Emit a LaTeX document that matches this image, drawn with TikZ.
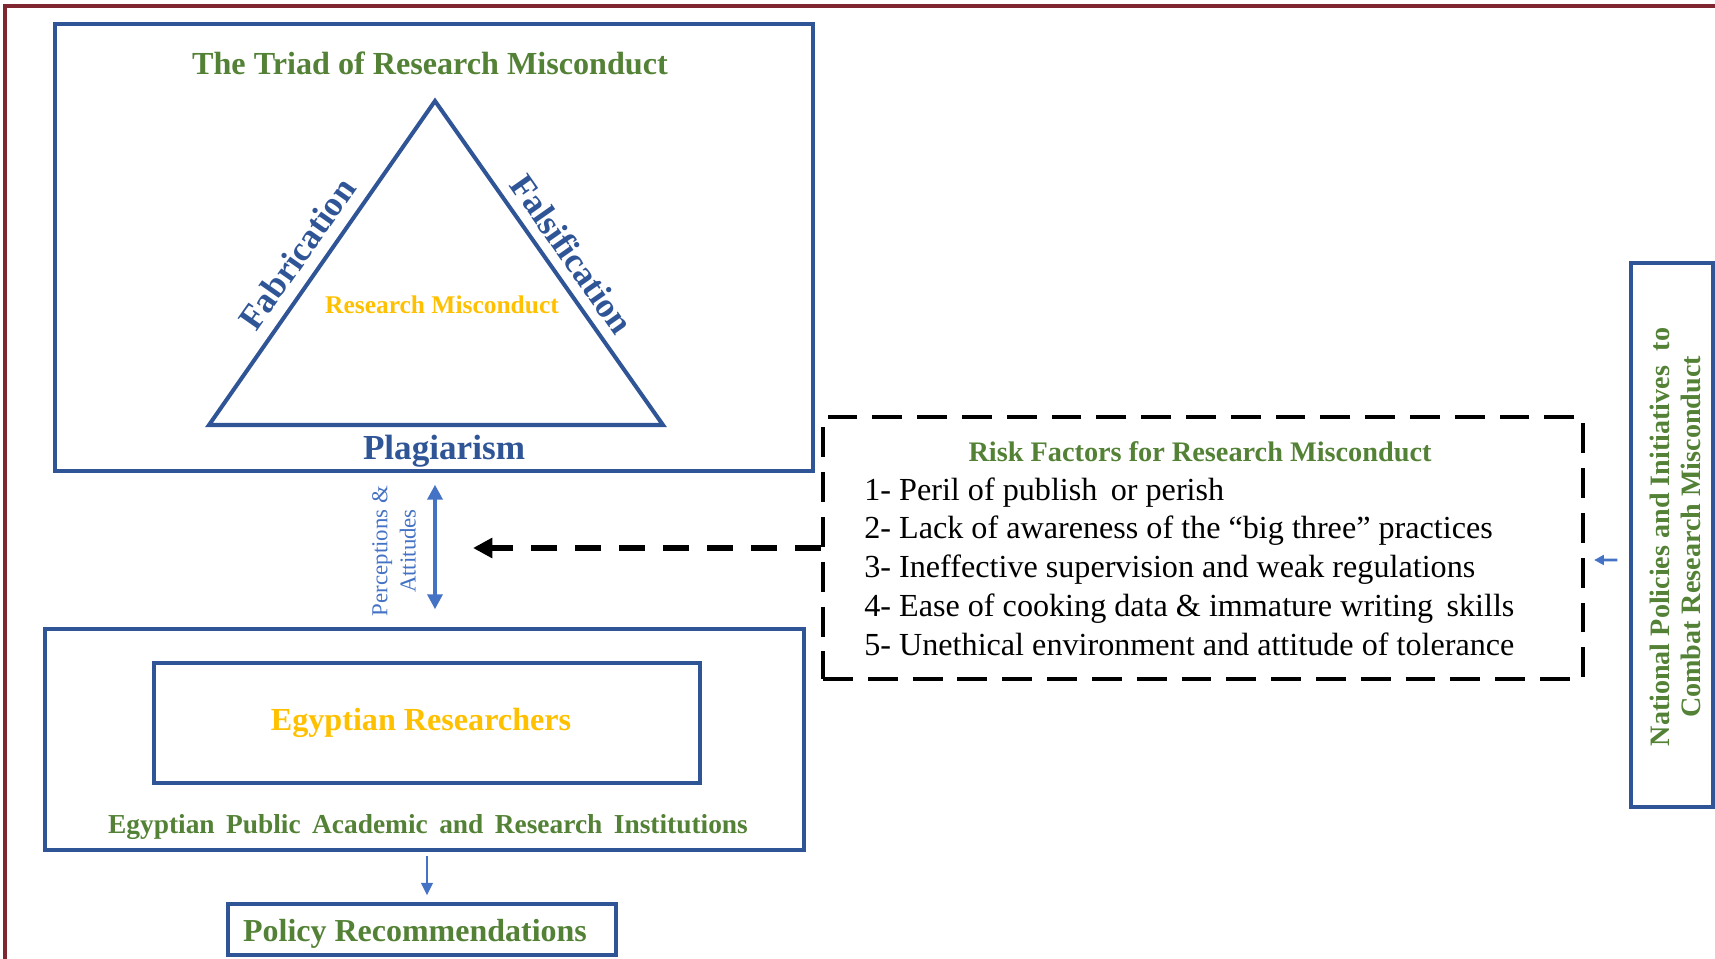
\documentclass[tikz,border=0pt]{standalone}
\usepackage{fontspec}
\setmainfont{Liberation Serif}
\usetikzlibrary{arrows.meta,calc}
\definecolor{dblue}{HTML}{2F5597}
\definecolor{lblue}{HTML}{4472C4}
\definecolor{dgreen}{HTML}{538135}
\definecolor{gold}{HTML}{FFC000}
\definecolor{frame}{HTML}{7F2630}
\newcommand{\fs}[2]{\fontsize{#1pt}{#2pt}\selectfont}
\begin{document}
\begin{tikzpicture}[x=0.02cm,y=-0.02cm,
  box/.style={draw=dblue, line width=2pt, inner sep=0pt},
  gtitle/.style={text=dgreen, font=\bfseries\fs{18.3}{21}, inner sep=0pt},
  sidelabel/.style={text=dblue, font=\bfseries\fs{20}{24}, inner sep=0pt},
  bluearrow/.style={draw=lblue, line width=2pt, {Triangle[length=8.5pt,width=8.5pt]}-{Triangle[length=8.5pt,width=8.5pt]}},
  downarrow/.style={draw=lblue, line width=1.6pt, -{Triangle[length=7pt,width=6.5pt]}},
  smallarrow/.style={draw=lblue, line width=1.5pt, -{Triangle[length=5.5pt,width=5.5pt]}},
  dasharrow/.style={draw=black, line width=3.4pt, dash pattern=on 15pt off 10pt, -{Triangle[length=11pt,width=11pt]}},
  dashbox/.style={draw=black, line width=2.5pt, dash pattern=on 17pt off 8.5pt, inner sep=0pt}
]
\useasboundingbox (0,0) rectangle (1715,959);
% outer frame (only top and left edges visible)
\draw[frame, line width=2.2pt] (5,965) -- (5,6) -- (1720,6);

% triad box
\node[box, minimum width=15.16cm, minimum height=8.94cm] (triad) at (434,247.5) {};
\node[gtitle] (title) at (430,63) {The Triad of Research Misconduct};
\coordinate (apex) at (435,101);
\coordinate (tl) at (209,425);
\coordinate (tr) at (663,425);
\draw[dblue, line width=2.3pt] (apex) -- (tr) -- (tl) -- cycle;
\node[sidelabel, rotate=55] (fab) at (297,254) {Fabrication};
\node[sidelabel, rotate=-55] (fal) at (572,254) {Falsification};
\node[text=gold, font=\bfseries\fs{14.5}{17}, inner sep=0pt] (rm) at (442,305) {Research Misconduct};
\node[sidelabel] (plag) at (444,451) {Plagiarism};

% institutions box
\node[box, minimum width=15.18cm, minimum height=4.42cm] (inst) at (424.5,739.5) {};
\node[box, minimum width=10.92cm, minimum height=2.4cm] (res) at (427,723) {};
\node[text=gold, font=\bfseries\fs{18.3}{22}, inner sep=0pt] (restext) at (421,723) {Egyptian Researchers};
\node[text=dgreen, font=\bfseries\fs{15.6}{19}, inner sep=0pt] (insttext) at (428,827) {Egyptian\, Public\, Academic\, and\, Research\, Institutions};

% policy box
\node[box, minimum width=7.76cm, minimum height=1.02cm] (policy) at (422,929.5) {};
\node[text=dgreen, font=\bfseries\fs{18.2}{22}, inner sep=0pt] (poltext) at (415,934) {Policy Recommendations};

% perceptions arrow
\draw[bluearrow, shorten <=0.24cm, shorten >=0.36cm] (triad.south -| apex) -- (inst.north -| apex);
\node[text=lblue, font=\fs{13}{16}, rotate=90, align=center, inner sep=0pt] (perc) at (394,551) {Perceptions \&\\Attitudes};

% risk box
\node[dashbox, minimum width=15.2cm, minimum height=5.24cm] (risk) at (1203,548) {};
\node[text=dgreen, font=\bfseries\fs{16.1}{19}, inner sep=0pt] (risktitle) at (1200,452) {Risk Factors for Research Misconduct};
\node[anchor=west, align=left, font=\fs{18.3}{22.1}, inner sep=0pt] (risklist) at (864,566.5) {1- Peril of publish\, or perish\\2- Lack of awareness of the “big three” practices\\3- Ineffective supervision and weak regulations\\4- Ease of cooking data \& immature writing\, skills\\5- Unethical environment and attitude of tolerance};
\coordinate (tip) at (473,548);
\draw[dasharrow] (risk.west) -- (tip);

% national box
\node[box, minimum width=1.64cm, minimum height=10.88cm] (national) at (1672,535) {};
\node[text=dgreen, font=\bfseries\fs{16}{17.6}, rotate=90, align=center, inner sep=0pt] (nattext) at (1675,537) {National Policies and Initiatives\;\ to\\Combat Research Misconduct};
\draw[smallarrow, shorten <=0.24cm, shorten >=0.18cm] ([yshift=-0.5cm]national.west) -- ([yshift=-0.24cm]risk.east);

% down arrow to policy
\draw[downarrow, shorten <=0.08cm, shorten >=0.14cm] (inst.south -| 427,0) -- (policy.north -| 427,0);
\end{tikzpicture}
\end{document}
